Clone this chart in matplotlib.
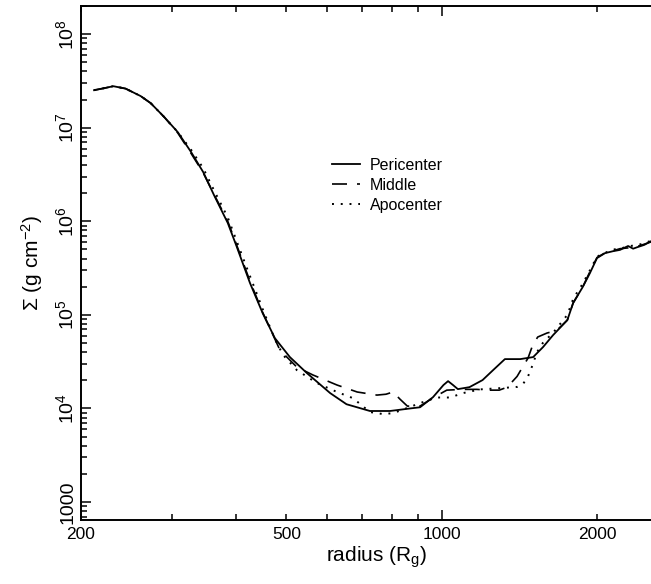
import math

import matplotlib
matplotlib.use("Agg")
import matplotlib.pyplot as plt
from matplotlib.ticker import LogLocator, FuncFormatter, NullFormatter

plt.rcParams["font.family"] = ["Liberation Sans", "DejaVu Sans"]
plt.rcParams["mathtext.default"] = "regular"

# Pericenter (solid)
peri_r = [212, 222, 231, 244, 261, 273, 290, 308, 327, 345, 362, 385, 400, 425,
          450, 475, 508, 548, 608, 654, 726, 794, 868, 908, 962, 1008, 1029, 1052,
          1075, 1132, 1200, 1258, 1326, 1420, 1504, 1572, 1644, 1752, 1798, 1876,
          1938, 2000, 2072, 2150, 2216, 2298, 2350, 2396, 2470, 2540, 2600]
peri_s = [2.52e7, 2.65e7, 2.78e7, 2.62e7, 2.18e7, 1.83e7, 1.30e7, 8.98e6, 5.48e6,
          3.36e6, 1.91e6, 9.6e5, 5.5e5, 2.2e5, 1.04e5, 5.65e4, 3.54e4, 2.39e4,
          1.46e4, 1.11e4, 9.4e3, 9.4e3, 1.0e4, 1.03e4, 1.32e4, 1.78e4, 1.96e4,
          1.78e4, 1.61e4, 1.69e4, 2.01e4, 2.57e4, 3.37e4, 3.37e4, 3.54e4, 4.53e4,
          6.08e4, 8.8e4, 1.34e5, 1.98e5, 2.8e5, 4.05e5, 4.57e5, 4.8e5, 4.95e5,
          5.45e5, 5.1e5, 5.3e5, 5.6e5, 6.1e5, 6.4e5]

# Middle (dashed)
mid_r = [212, 222, 231, 244, 261, 273, 290, 308, 327, 345, 362, 385, 400, 425,
         450, 486, 524, 563, 627, 686, 749, 780, 805, 830, 858, 908, 962, 1023,
         1100, 1170, 1230, 1293, 1340, 1400, 1435, 1470, 1500, 1535, 1600, 1670,
         1752, 1798, 1876, 1938, 2000, 2072, 2150, 2216, 2298, 2396, 2470, 2540, 2600]
mid_s = [2.52e7, 2.65e7, 2.78e7, 2.62e7, 2.18e7, 1.83e7, 1.30e7, 8.8e6, 5.3e6,
         3.3e6, 1.95e6, 1.0e6, 5.7e5, 2.3e5, 1.06e5, 4.2e4, 2.77e4, 2.28e4,
         1.78e4, 1.5e4, 1.39e4, 1.42e4, 1.5e4, 1.26e4, 1.06e4, 1.06e4, 1.3e4,
         1.57e4, 1.6e4, 1.6e4, 1.57e4, 1.57e4, 1.69e4, 2.2e4, 2.77e4, 3.45e4,
         4.7e4, 5.8e4, 6.4e4, 6.8e4, 8.8e4, 1.34e5, 1.98e5, 2.9e5, 4.1e5, 4.6e5,
         4.85e5, 5.1e5, 5.2e5, 5.4e5, 5.7e5, 6.0e5, 6.4e5]

# Apocenter (dotted)
apo_r = [212, 222, 231, 244, 261, 273, 290, 308, 327, 345, 362, 385, 414, 450,
         475, 493, 524, 573, 627, 673, 726, 769, 805, 856, 920, 978, 1038, 1100,
         1188, 1300, 1400, 1440, 1470, 1500, 1530, 1570, 1650, 1752, 1800, 1876,
         1938, 2000, 2072, 2150, 2216, 2298, 2396, 2470, 2540, 2600]
apo_s = [2.52e7, 2.65e7, 2.78e7, 2.62e7, 2.18e7, 1.83e7, 1.30e7, 9.0e6, 5.8e6,
         3.7e6, 2.15e6, 1.1e6, 3.8e5, 1.15e5, 5.5e4, 3.72e4, 2.57e4, 1.87e4,
         1.5e4, 1.29e4, 9.16e3, 8.72e3, 8.9e3, 1.01e4, 1.17e4, 1.31e4, 1.31e4,
         1.46e4, 1.6e4, 1.65e4, 1.7e4, 1.85e4, 2.2e4, 2.9e4, 4.0e4, 5.0e4, 6.6e4,
         1.0e5, 1.5e5, 2.15e5, 3.0e5, 4.2e5, 4.6e5, 5.0e5, 5.1e5, 5.4e5, 5.6e5,
         5.8e5, 6.2e5, 6.5e5]


def ylab(v, pos):
    if round(v) == 1000:
        return "1000"
    return f"$10^{{{int(round(math.log10(v)))}}}$"


fig = plt.figure(figsize=(6.51, 5.84), dpi=100)
ax = fig.add_axes([81 / 651, 64 / 584, 591.4 / 651, 514 / 584])

ax.plot(peri_r, peri_s, color="black", lw=1.3, label="Pericenter")
ax.plot(mid_r, mid_s, color="black", lw=1.2, ls=(0, (9, 6)), label="Middle")
ax.plot(apo_r, apo_s, color="black", lw=1.4, ls=(0, (1, 3.5)), label="Apocenter")

ax.set_xscale("log")
ax.set_yscale("log")
ax.set_xlim(200, 2800)
ax.set_ylim(643, 2.0e8)

ax.xaxis.set_major_locator(LogLocator(base=10))
ax.xaxis.set_minor_locator(LogLocator(base=10, subs=range(2, 10)))
ax.xaxis.set_major_formatter(FuncFormatter(lambda v, p: f"{v:.0f}"))
ax.xaxis.set_minor_formatter(FuncFormatter(
    lambda v, p: f"{v:.0f}" if round(v) in (200, 500, 2000) else ""))

ax.yaxis.set_major_locator(LogLocator(base=10))
ax.yaxis.set_minor_locator(LogLocator(base=10, subs=range(2, 10)))
ax.yaxis.set_minor_formatter(NullFormatter())
ax.yaxis.set_major_formatter(FuncFormatter(ylab))

ax.tick_params(which="both", direction="in", top=True, right=True, width=1.1)
ax.tick_params(axis="x", which="both", labelsize=12.5, pad=5)
ax.tick_params(axis="y", which="major", labelsize=14, labelrotation=90, pad=3)
ax.tick_params(which="major", length=7)
ax.tick_params(which="minor", length=4)
for lab in ax.get_yticklabels():
    lab.set_va("center")
for s in ax.spines.values():
    s.set_linewidth(1.4)

ax.set_xlabel("radius (R$_g$)", fontsize=15, labelpad=2)
ax.set_ylabel("Σ (g cm$^{-2}$)", fontsize=15, labelpad=7)

ax.legend(loc="upper left", bbox_to_anchor=(332 / 651, 1 - 158 / 584),
          bbox_transform=fig.transFigure, frameon=False, fontsize=11.5,
          handlelength=1.75, handletextpad=0.6, labelspacing=0.3,
          borderpad=0, borderaxespad=0)

fig.savefig("out.png", dpi=100)
